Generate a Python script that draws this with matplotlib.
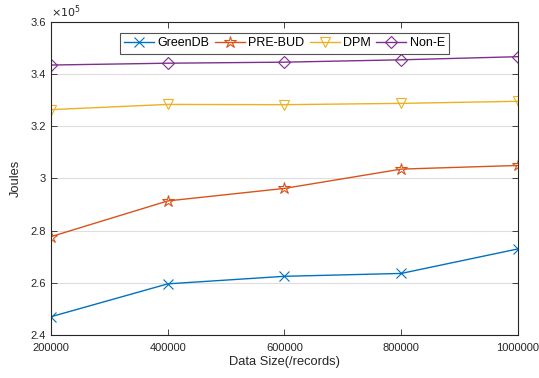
import matplotlib
matplotlib.use("Agg")
import matplotlib.pyplot as plt
from matplotlib.ticker import FuncFormatter

data_size = [200000, 400000, 600000, 800000, 1000000]
greendb = [2.470e5, 2.596e5, 2.625e5, 2.636e5, 2.730e5]
pre_bud = [2.777e5, 2.914e5, 2.962e5, 3.036e5, 3.050e5]
dpm = [3.264e5, 3.284e5, 3.283e5, 3.288e5, 3.296e5]
non_e = [3.435e5, 3.442e5, 3.446e5, 3.455e5, 3.467e5]
y_ticks = [2.4e5, 2.6e5, 2.8e5, 3.0e5, 3.2e5, 3.4e5, 3.6e5]

plt.rcParams['font.family'] = ['Liberation Sans', 'DejaVu Sans']
axis_col = (0.15, 0.15, 0.15)

fig = plt.figure(figsize=(5.39, 3.78), dpi=100)
ax = fig.add_axes([0.0946, 0.1138, 0.8664, 0.828])

series = [
    (greendb, 'GreenDB', '#0072BD', 'x', 6.5),
    (pre_bud, 'PRE-BUD', '#D95319', '*', 9),
    (dpm, 'DPM', '#EDB120', 'v', 7.5),
    (non_e, 'Non-E', '#7E2F8E', 'D', 6.5),
]
for vals, name, col, mk, ms in series:
    ax.plot(data_size, vals, color=col, lw=1.0, marker=mk, markersize=ms,
            markerfacecolor='none', markeredgecolor=col, markeredgewidth=0.8,
            label=name)

ax.set_xlim(200000, 1000000)
ax.set_ylim(2.4e5, 3.6e5)
ax.set_xticks(data_size)
ax.set_xticklabels([str(v) for v in data_size])
ax.set_yticks(y_ticks)
ax.yaxis.set_major_formatter(FuncFormatter(lambda v, p: f"{v / 1e5:g}"))
ax.grid(axis='y', color=(0.15, 0.15, 0.15), alpha=0.15, lw=0.8)
ax.set_axisbelow(True)

for sp in ax.spines.values():
    sp.set_color(axis_col)
    sp.set_linewidth(0.8)
ax.tick_params(direction='in', length=4, width=0.6, colors=axis_col,
               labelsize=8, top=True, right=True, labeltop=False, labelright=False)
ax.tick_params(axis='x', pad=6)

ax.set_xlabel('Data Size(/records)', fontsize=9.3, color=axis_col, labelpad=2)
ax.set_ylabel('Joules', fontsize=9.3, color=axis_col, labelpad=6)
ax.text(0.0, 1.005, r'$\times10^{5}$', transform=ax.transAxes, fontsize=8,
        color=axis_col, ha='left', va='bottom')

leg = ax.legend(loc='upper center', ncol=4, fontsize=9, frameon=True,
                fancybox=False, edgecolor=axis_col, handlelength=2.4,
                columnspacing=0.4, handletextpad=0.3, borderpad=0.35,
                bbox_to_anchor=(0.5, 0.985))
leg.get_frame().set_linewidth(0.8)

fig.savefig('out.png', dpi=100)
